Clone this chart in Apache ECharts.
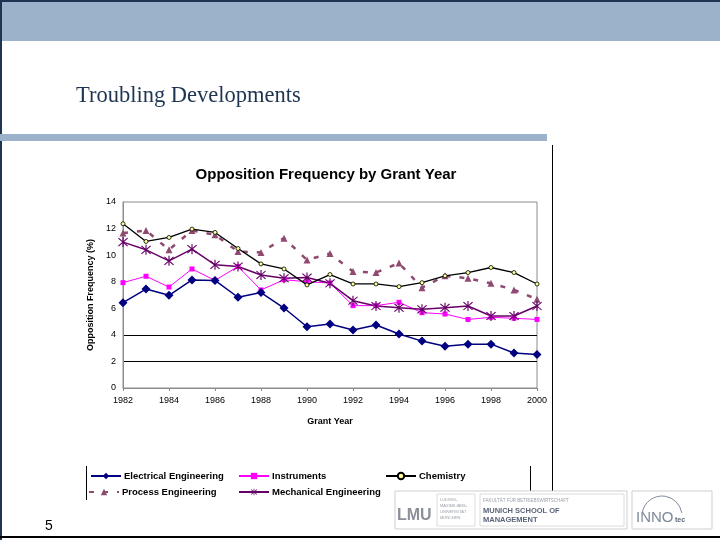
<!DOCTYPE html>
<html><head><meta charset="utf-8">
<script src="https://cdn.jsdelivr.net/npm/echarts@6/dist/echarts.min.js"></script>
<style>html,body{margin:0;padding:0;background:#fff}#c{width:720px;height:540px}</style>
</head><body><div id="c"></div>
<script>
const years = ['1982','1983','1984','1985','1986','1987','1988','1989','1990','1991','1992','1993','1994','1995','1996','1997','1998','1999','2000'];
const electrical = [6.42,7.45,6.98,8.13,8.1,6.83,7.18,6.02,4.61,4.81,4.36,4.74,4.06,3.53,3.15,3.3,3.3,2.64,2.52];
const instruments = [7.93,8.41,7.6,8.96,8.1,9.14,7.38,8.15,8.0,7.9,6.2,6.2,6.45,5.67,5.57,5.16,5.32,5.25,5.16];
const chemistry = [12.36,11.03,11.33,11.96,11.71,10.5,9.34,8.96,7.76,8.54,7.83,7.83,7.63,7.93,8.44,8.69,9.07,8.69,7.83];
const processEng = [11.66,11.86,10.4,11.86,11.53,10.27,10.2,11.28,9.64,10.12,8.76,8.69,9.4,7.55,8.44,8.26,7.88,7.38,6.68];
const mechanical = [10.98,10.4,9.57,10.45,9.27,9.14,8.51,8.26,8.31,7.88,6.57,6.17,6.04,5.92,6.04,6.17,5.42,5.42,6.17];
const seriesNames = ['Electrical Engineering','Instruments','Chemistry','Process Engineering','Mechanical Engineering'];

const chart = echarts.init(document.getElementById('c'));
const asterisk = 'path://M-0.5,-5L0.5,-5L0.5,5L-0.5,5Z M-4.3,-3.6L-3.6,-4.3L4.3,3.6L3.6,4.3Z M3.6,-4.3L4.3,-3.6L-3.6,4.3L-4.3,3.6Z';
const font = 'Arial, "Liberation Sans", sans-serif';
const legendBase = (name, left, top) => ({
  data: [name], left: left, top: top, orient: 'horizontal', itemWidth: 30, itemHeight: 8, padding: 0,
  selectedMode: false,
  textStyle: { fontFamily: font, fontSize: 9.5, fontWeight: 'bold', color: '#000', padding: [0,0,0,-2] }
});
const splitColors = ['transparent','#000','#000','transparent','transparent','transparent','transparent','transparent'];

chart.setOption({
  animation: false,
  backgroundColor: '#fff',
  title: { text: 'Opposition Frequency by Grant Year', left: 321, top: 162, textAlign: 'center',
    textStyle: { fontFamily: font, fontSize: 15, fontWeight: 'bold', color: '#000' } },
  grid: { left: 123, right: 183, top: 202, bottom: 152, show: true, borderColor: '#8c8c8c', borderWidth: 1 },
  legend: [
    legendBase(seriesNames[0], 90, 471),
    legendBase(seriesNames[1], 238, 471),
    legendBase(seriesNames[2], 385, 471),
    legendBase(seriesNames[3], 88, 487),
    legendBase(seriesNames[4], 238, 487)
  ],
  xAxis: {
    type: 'category', data: years, boundaryGap: false,
    name: 'Grant Year', nameLocation: 'middle', nameGap: 29,
    nameTextStyle: { fontFamily: font, fontSize: 9, fontWeight: 'bold', color: '#000' },
    axisLine: { lineStyle: { color: '#8c8c8c' } },
    axisTick: { show: true, interval: 1, length: 3, lineStyle: { color: '#8c8c8c' } },
    axisLabel: { interval: 1, fontFamily: font, fontSize: 9, color: '#000', margin: 8 },
    splitLine: { show: false }
  },
  yAxis: {
    type: 'value', min: 0, max: 14, interval: 2,
    name: 'Opposition Frequency (%)', nameLocation: 'middle', nameGap: 24, nameRotate: 90,
    nameTextStyle: { fontFamily: font, fontSize: 9, fontWeight: 'bold', color: '#000' },
    axisLine: { show: true, lineStyle: { color: '#8c8c8c' } },
    axisTick: { show: false },
    axisLabel: { fontFamily: font, fontSize: 9, color: '#000', margin: 7 },
    splitLine: { show: true, lineStyle: { color: splitColors, width: 1 } }
  },
  series: [
    { name: seriesNames[0], type: 'line', data: electrical, symbol: 'diamond', symbolSize: 9,
      lineStyle: { color: '#000080', width: 1.5 }, itemStyle: { color: '#000080' }, z: 5 },
    { name: seriesNames[1], type: 'line', data: instruments, symbol: 'rect', symbolSize: 5,
      lineStyle: { color: '#ff00ff', width: 1 }, itemStyle: { color: '#ff00ff' }, z: 3 },
    { name: seriesNames[2], type: 'line', data: chemistry, symbol: 'circle', symbolSize: 4, showAllSymbol: true,
      lineStyle: { color: '#000', width: 1.3 }, itemStyle: { color: '#ffff99', borderColor: '#000', borderWidth: 0.8 }, z: 4 },
    { name: seriesNames[3], type: 'line', data: processEng, symbol: 'triangle', symbolSize: 7,
      lineStyle: { color: '#8f4a70', width: 2.5, type: [5, 9] }, itemStyle: { color: '#8f4a70' }, z: 2 },
    { name: seriesNames[4], type: 'line', data: mechanical, symbol: asterisk, symbolSize: 10,
      lineStyle: { color: '#660066', width: 1.5 }, itemStyle: { color: '#660066' }, z: 3 }
  ],
  graphic: [
    { type: 'rect', shape: { x: 0, y: 0, width: 720, height: 41 }, style: { fill: '#9cb1ca' }, silent: true },
    { type: 'rect', shape: { x: 0, y: 0, width: 720, height: 2 }, style: { fill: '#1f3450' }, silent: true },
    { type: 'rect', shape: { x: 0, y: 0, width: 2, height: 540 }, style: { fill: '#1f3450' }, silent: true },
    { type: 'rect', shape: { x: 0, y: 134, width: 547, height: 7 }, style: { fill: '#9cb1ca' }, silent: true },
    { type: 'text', left: 76, top: 85, style: { text: 'Troubling Developments', fill: '#1f3450',
      font: '22.5px "Liberation Serif", "DejaVu Serif", serif' } },
    { type: 'rect', shape: { x: 552, y: 145, width: 1, height: 356 }, style: { fill: '#000' }, silent: true },
    { type: 'rect', shape: { x: 86, y: 466, width: 1, height: 34 }, style: { fill: '#000' }, silent: true },
    { type: 'rect', shape: { x: 530, y: 466, width: 1, height: 34 }, style: { fill: '#000' }, silent: true },
    { type: 'rect', shape: { x: 0, y: 536, width: 720, height: 2 }, style: { fill: '#000' }, silent: true },
    { type: 'text', left: 45, top: 519, style: { text: '5', fill: '#000', font: '14px Arial, "Liberation Sans", sans-serif' } },
    { type: 'rect', shape: { x: 395, y: 491, width: 232, height: 38 }, style: { fill: '#fff', stroke: '#cfcfcf', lineWidth: 1 } },
    { type: 'rect', shape: { x: 437, y: 494, width: 38, height: 32 }, style: { fill: '#fff', stroke: '#dcdcdc', lineWidth: 1 } },
    { type: 'rect', shape: { x: 480, y: 494, width: 144, height: 32 }, style: { fill: '#fff', stroke: '#dcdcdc', lineWidth: 1 } },
    { type: 'text', left: 397, top: 508, style: { text: 'LMU', fill: '#8a8f99', font: 'bold 16px Arial, "Liberation Sans", sans-serif' } },
    { type: 'text', left: 440, top: 497, style: { text: 'LUDWIG-\nMAXIMILIANS-\nUNIVERSITÄT\nMÜNCHEN', fill: '#9aa0aa', lineHeight: 6, font: '4px Arial, sans-serif' } },
    { type: 'text', left: 483, top: 498, style: { text: 'FAKULTÄT FÜR BETRIEBSWIRTSCHAFT', fill: '#9aa0aa', font: '4.5px Arial, sans-serif' } },
    { type: 'text', left: 483, top: 507, style: { text: 'MUNICH SCHOOL OF', fill: '#5a6478', font: 'bold 7.5px Arial, sans-serif' } },
    { type: 'text', left: 483, top: 516, style: { text: 'MANAGEMENT', fill: '#5a6478', font: 'bold 7.5px Arial, sans-serif' } },
    { type: 'rect', shape: { x: 632, y: 491, width: 80, height: 38 }, style: { fill: '#fff', stroke: '#cfcfcf', lineWidth: 1 } },
    { type: 'arc', shape: { cx: 662, cy: 516, r: 20, startAngle: Math.PI * 1.05, endAngle: Math.PI * 1.95 }, style: { stroke: '#7f8a9a', lineWidth: 1, fill: null } },
    { type: 'text', left: 636, top: 510, style: { text: 'INNO', fill: '#7f8a9a', font: '15px Arial, sans-serif' } },
    { type: 'text', left: 675, top: 517, style: { text: 'tec', fill: '#5a6478', font: 'bold 7px Arial, sans-serif' } }
  ]
});
</script></body></html>
